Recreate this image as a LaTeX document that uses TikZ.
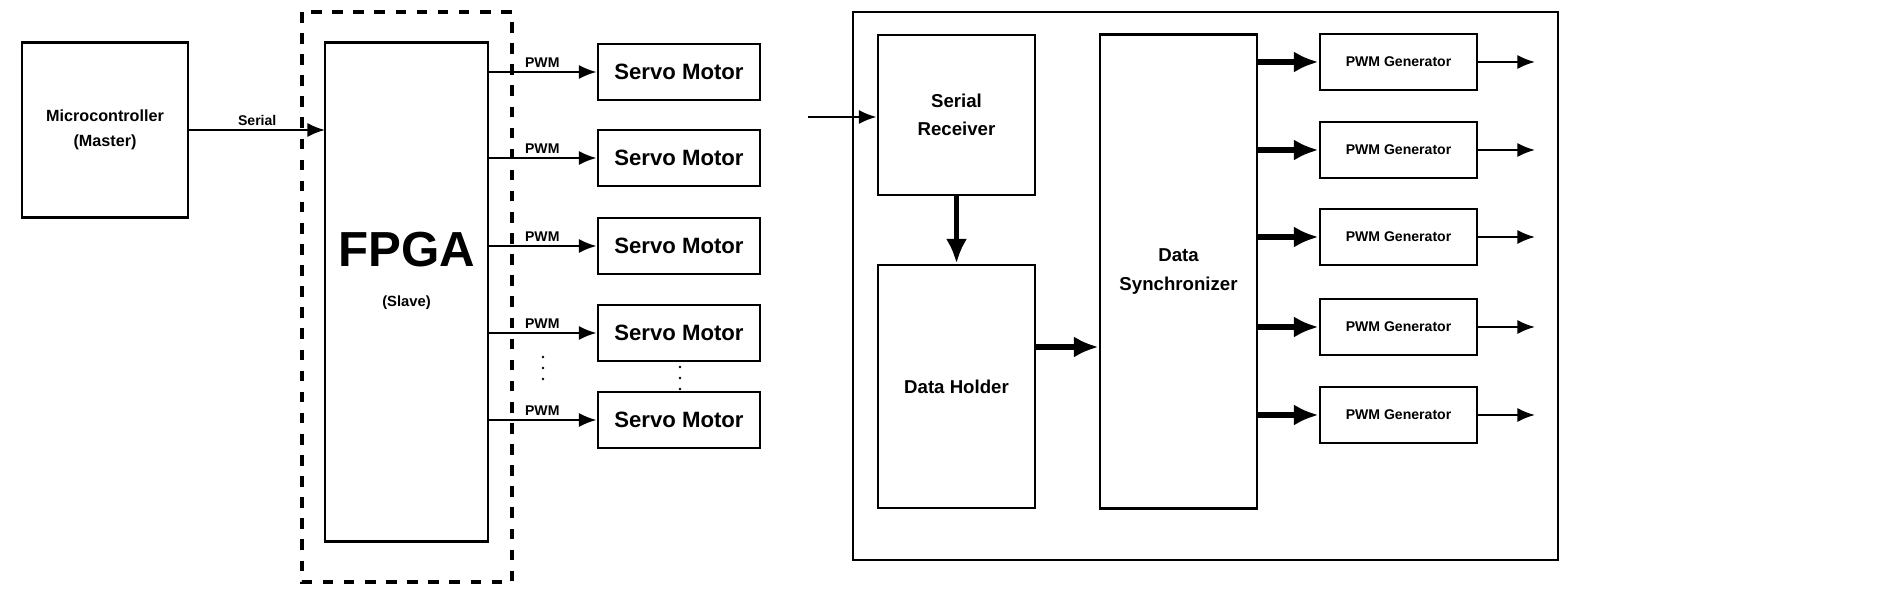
\documentclass[tikz,border=0pt]{standalone}
\usepackage{fontspec}
\setmainfont{Liberation Sans}
\usetikzlibrary{arrows.meta}
\usetikzlibrary{positioning}
\tikzset{
  blk/.style={draw,thick,inner sep=0pt,font=\bfseries},
  thin arr/.style={-{Latex[length=5pt,width=4pt]},semithick},
  thick arr/.style={-{Latex[length=7pt,width=6pt]},line width=1.6pt},
  lbl/.style={font=\fontsize{4}{5}\selectfont\bfseries,inner sep=1pt}
}
\begin{document}
\begin{tikzpicture}[x=0.01cm,y=-0.01cm]
      \useasboundingbox (0,0) rectangle (1885,592);
      % left half
      \node[blk,minimum width=166\pgflinewidth,text width=1.5cm,align=center,minimum width=1.66cm,minimum height=1.75cm,font=\fontsize{4.6}{7}\selectfont\bfseries] (mcu) at (105,130) {Microcontroller\\(Master)};
      \draw[dashed,line width=1pt] (302,12) rectangle (512,582);
      \node[blk,minimum width=1.63cm,minimum height=4.98cm] (fpga) at (406.5,292) {};
      \node[font=\fontsize{14}{14}\selectfont\bfseries] (fpgat) at (406.5,250) {FPGA};
      \node[font=\fontsize{4.2}{5}\selectfont\bfseries,below=1pt of fpgat] (slave) {(Slave)};
      \coordinate (fpgain) at (325,130);
      \draw[thin arr] (mcu.east |- fpgain) -- node[lbl,above] {Serial} (fpgain);
      \foreach \y [count=\i] in {72,158,246,333,420} {
        \node[blk,minimum width=1.62cm,minimum height=0.56cm,font=\fontsize{6.3}{7}\selectfont\bfseries] (servo\i) at (679,\y) {Servo Motor};
        \coordinate (pwm\i) at (488,\y);
        \draw[thin arr] (pwm\i) -- node[lbl,above] {PWM} (servo\i.west);
      }
      \foreach \y in {357,368,379} {
        \fill (543,\y) circle (1.3);
        \fill (680,\y+10) circle (1.3);
      }
      % right half
      \draw[semithick] (853,12) rectangle (1558,560);
      \node[blk,minimum width=1.57cm,minimum height=1.6cm,align=center,font=\fontsize{5.3}{8}\selectfont\bfseries] (rx) at (956.5,115) {Serial\\Receiver};
      \node[blk,minimum width=1.57cm,minimum height=2.43cm,font=\fontsize{5.3}{8}\selectfont\bfseries] (hold) at (956.5,386.5) {Data Holder};
      \node[blk,minimum width=1.57cm,minimum height=4.73cm,align=center,font=\fontsize{5.3}{8}\selectfont\bfseries] (sync) at (1178.5,271.5) {Data\\Synchronizer};
      \coordinate (inp) at (808,117);
      \draw[thin arr] (inp) -- (inp -| rx.west);
      \draw[thick arr] (rx) -- (hold);
      \draw[thick arr] (hold.east |- 0,347) -- (sync.west |- 0,347);
      \foreach \y [count=\i] in {62,150,237,327,415} {
        \node[blk,minimum width=1.57cm,minimum height=0.56cm,font=\fontsize{4}{5}\selectfont\bfseries] (gen\i) at (1398.5,\y) {PWM Generator};
        \coordinate (out\i) at (1535,\y);
        \draw[thick arr] (sync.east |- gen\i) -- (gen\i.west);
        \draw[thin arr] (gen\i.east) -- (out\i);
      }
\end{tikzpicture}
\end{document}
